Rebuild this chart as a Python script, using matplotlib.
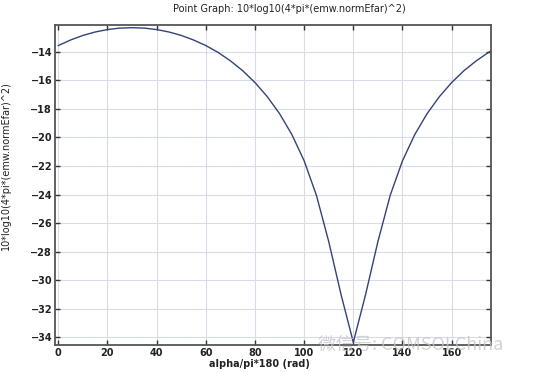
import matplotlib
matplotlib.use('Agg')
import matplotlib.pyplot as plt

# values (alpha in degrees, level in dB)
alpha = [0, 5, 10, 15, 20, 25, 30, 35, 40, 45, 50, 55, 60, 65, 70, 75, 80, 85,
         90, 95, 100, 105, 110, 115, 120, 125, 130, 135, 140, 145, 150, 155,
         160, 165, 170, 175, 176]
level = [-13.57, -13.18, -12.86, -12.62, -12.45, -12.35, -12.32, -12.35, -12.45,
         -12.62, -12.86, -13.18, -13.57, -14.05, -14.64, -15.33, -16.16, -17.15,
         -18.34, -19.80, -21.64, -24.06, -27.30, -31.00, -34.35, -31.00, -27.30,
         -24.06, -21.64, -19.80, -18.34, -17.15, -16.16, -15.33, -14.64, -14.05,
         -13.95]
xticks = [0, 20, 40, 60, 80, 100, 120, 140, 160]
yticks = [-14, -16, -18, -20, -22, -24, -26, -28, -30, -32, -34]

title = 'Point Graph: 10*log10(4*pi*(emw.normEfar)^2)'
xlabel = 'alpha/pi*180 (rad)'
ylabel = '10*log10(4*pi*(emw.normEfar)^2)'


def main():
    fig = plt.figure(figsize=(5.5, 3.73), dpi=100)
    ax = fig.add_axes([0.1, 0.075, 0.7927, 0.858])

    ax.plot(alpha, level, color='#34427a', lw=1.0)

    ax.set_xlim(-1.35, 176)
    ax.set_ylim(-34.54, -12.13)
    ax.set_xticks(xticks)
    ax.set_yticks(yticks)
    ax.grid(True, color='#d9dbe8', lw=0.8)
    ax.tick_params(direction='in', length=3.5, width=1, color='#333333',
                   top=True, right=True, labelsize=7, labelcolor='#222222',
                   pad=2)
    for lab in ax.get_xticklabels() + ax.get_yticklabels():
        lab.set_fontweight('semibold')
    for s in ax.spines.values():
        s.set_color('#555555')
        s.set_linewidth(1.3)

    ax.set_xlabel(xlabel, fontsize=7, color='#222222', fontweight='semibold')
    ax.xaxis.set_label_coords((259 - 55) / 436, -0.045)
    ax.set_ylabel(ylabel, fontsize=7, color='#222222')
    ax.yaxis.set_label_coords(-0.1, (345 - 166) / 320)

    fig.text(289 / 550, 1 - 8.5 / 373, title, fontsize=7, color='#222222',
             ha='center', va='center')

    # watermark
    fig.text(318 / 550, 1 - 345 / 373, '微信号: COMSOLChina', fontsize=13,
             color='#c4c4c4', alpha=0.75, ha='left', va='center',
             family=['Noto Sans CJK SC', 'DejaVu Sans'])

    fig.savefig('out.png', dpi=100)


if __name__ == '__main__':
    main()
